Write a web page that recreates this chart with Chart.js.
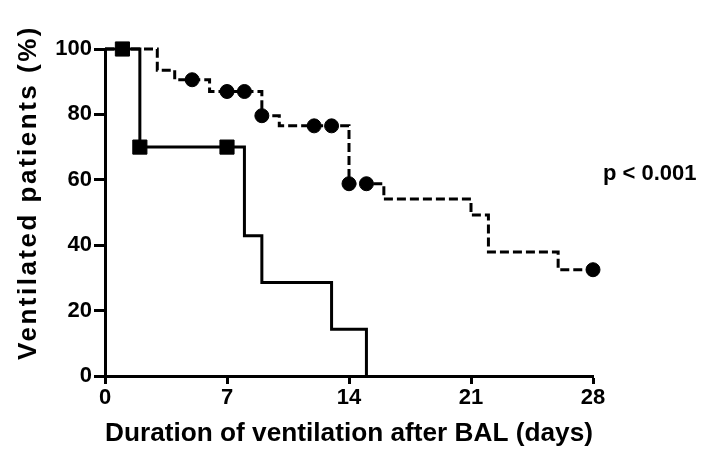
<!DOCTYPE html>
<html>
<head>
<meta charset="utf-8">
<title>Ventilated patients</title>
<script src="https://cdn.jsdelivr.net/npm/chart.js@4.4.1/dist/chart.umd.min.js"></script>
<style>
  html, body { margin: 0; padding: 0; background: #fff; }
  canvas { display: block; }
</style>
</head>
<body>
<canvas id="myChart" width="707" height="452"></canvas>
<script>
// Datos (dias, % ventilados)
var solidDays = [0, 2, 8, 9, 13, 15];
var solidPct = [100, 70, 42.9, 28.6, 14.3, 0];
var squareDays = [1, 2, 7];
var squarePct = [100, 70, 70];

var dashedDays = [0, 3, 4, 6, 9, 10, 14, 16, 21, 22, 26, 28];
var dashedPct = [100, 93.5, 90.6, 87.0, 79.6, 76.5, 58.8, 54.1, 49.2, 37.9, 32.5, 32.5];
var circleDays = [5, 7, 8, 9, 12, 13, 14, 15, 28];
var circlePct = [90.6, 87.0, 87.0, 79.6, 76.5, 76.5, 58.8, 58.8, 32.5];

var xTicks = [0, 7, 14, 21, 28];
var yTicks = [0, 20, 40, 60, 80, 100];
var pLabel = 'p < 0.001';

function toPoints(xs, ys) {
    return xs.map(function(x, i) { return { x: x, y: ys[i] }; });
}

document.addEventListener("DOMContentLoaded", function() {
    var ctx = document.getElementById('myChart').getContext('2d');

    // el titulo del eje y lleva algo de espaciado entre letras
    var spacedTitles = {
        id: 'spacedTitles',
        beforeDraw: function(chart) {
            var scale = chart.scales.y;
            if (scale._spaced) return;
            var orig = scale.drawTitle.bind(scale);
            scale.drawTitle = function() {
                var c = chart.ctx;
                c.save();
                c.letterSpacing = '2.5px';
                c.translate(0, -20);
                orig();
                c.restore();
            };
            scale._spaced = true;
        },
        afterDraw: function(chart) {
            var c = chart.ctx;
            c.save();
            c.font = 'bold 22px "Liberation Sans", Arial, sans-serif';
            c.fillStyle = '#000';
            c.textAlign = 'left';
            c.textBaseline = 'alphabetic';
            c.fillText(pLabel, chart.chartArea.right + 10, chart.scales.y.getPixelForValue(60));
            c.restore();
        }
    };

    var chart = new Chart(ctx, {
        type: 'scatter',
        data: {
            datasets: [{
                label: 'solid',
                data: toPoints(solidDays, solidPct),
                showLine: true,
                stepped: 'before',
                borderColor: '#000',
                borderWidth: 3,
                pointRadius: 0,
                clip: false
            }, {
                label: 'dashed',
                data: toPoints(dashedDays, dashedPct),
                showLine: true,
                stepped: 'before',
                borderColor: '#000',
                borderWidth: 3,
                borderDash: [9, 4],
                pointRadius: 0,
                clip: false
            }, {
                label: 'squares',
                data: toPoints(squareDays, squarePct),
                pointStyle: 'rect',
                pointRadius: 10,
                backgroundColor: '#000',
                borderColor: '#000',
                borderWidth: 1,
                clip: false
            }, {
                label: 'circles',
                data: toPoints(circleDays, circlePct),
                pointStyle: 'circle',
                pointRadius: 7,
                backgroundColor: '#000',
                borderColor: '#000',
                borderWidth: 1,
                clip: false
            }]
        },
        options: {
            responsive: false,
            animation: false,
            devicePixelRatio: 1,
            layout: {
                padding: { left: 0, right: 114, top: 49, bottom: 0 }
            },
            plugins: {
                legend: { display: false },
                tooltip: { enabled: false }
            },
            scales: {
                x: {
                    type: 'linear',
                    min: 0,
                    max: 28,
                    afterFit: function(scale) { scale.height = 76; },
                    afterBuildTicks: function(scale) {
                        scale.ticks = xTicks.map(function(v) { return { value: v }; });
                    },
                    grid: {
                        drawOnChartArea: false,
                        drawTicks: true,
                        tickLength: 8,
                        tickWidth: 3,
                        tickColor: '#000',
                        color: '#000'
                    },
                    border: { display: true, color: '#000', width: 3 },
                    ticks: {
                        color: '#000',
                        padding: 1,
                        font: { family: '"Liberation Sans", Arial, sans-serif', size: 22, weight: 'bold' }
                    },
                    title: {
                        display: true,
                        text: 'Duration of ventilation after BAL (days)',
                        color: '#000',
                        padding: { top: 0, bottom: 2 },
                        font: { family: '"Liberation Sans", Arial, sans-serif', size: 26.5, weight: 'bold' }
                    }
                },
                y: {
                    type: 'linear',
                    min: 0,
                    max: 100,
                    afterFit: function(scale) { scale.width = 105; },
                    afterBuildTicks: function(scale) {
                        scale.ticks = yTicks.map(function(v) { return { value: v }; });
                    },
                    grid: {
                        drawOnChartArea: false,
                        drawTicks: true,
                        tickLength: 11,
                        tickWidth: 3,
                        tickColor: '#000',
                        color: '#000'
                    },
                    border: { display: true, color: '#000', width: 3 },
                    ticks: {
                        color: '#000',
                        padding: 2,
                        font: { family: '"Liberation Sans", Arial, sans-serif', size: 22, weight: 'bold' }
                    },
                    title: {
                        display: true,
                        text: 'Ventilated patients (%)',
                        color: '#000',
                        padding: { top: 13, bottom: 0 },
                        font: { family: '"Liberation Sans", Arial, sans-serif', size: 26, weight: 'bold' }
                    }
                }
            }
        },
        plugins: [spacedTitles]
    });
});
</script>
</body>
</html>
